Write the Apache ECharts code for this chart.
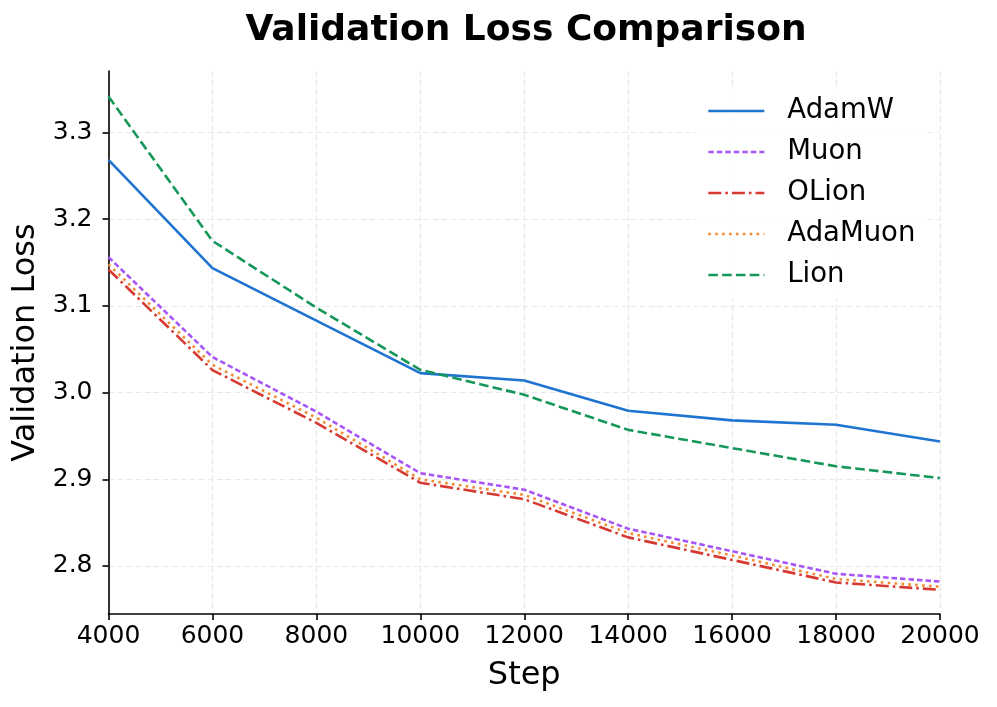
<!DOCTYPE html>
<html>
<head>
<meta charset="utf-8">
<script src="https://cdn.jsdelivr.net/npm/echarts@6/dist/echarts.min.js"></script>
<style>
html,body{margin:0;padding:0;background:#fff;}
#chart{width:997px;height:707px;}
</style>
</head>
<body>
<div id="chart"></div>
<script>
const steps = [4000, 6000, 8000, 10000, 12000, 14000, 16000, 18000, 20000];
const adamw   = [3.2685, 3.1436, 3.083, 3.0225, 3.014, 2.979, 2.968, 2.963, 2.9436];
const muon    = [3.1563, 3.041, 2.978, 2.907, 2.888, 2.843, 2.817, 2.791, 2.782];
const olion   = [3.142, 3.026, 2.965, 2.896, 2.877, 2.833, 2.807, 2.781, 2.7725];
const adamuon = [3.148, 3.032, 2.971, 2.900, 2.882, 2.838, 2.812, 2.785, 2.776];
const lion    = [3.3415, 3.175, 3.098, 3.0263, 2.9975, 2.957, 2.936, 2.915, 2.9014];
const yTicks  = [2.8, 2.9, 3.0, 3.1, 3.2, 3.3];
const xTicks  = [4000, 6000, 8000, 10000, 12000, 14000, 16000, 18000, 20000];

const FONT = 'DejaVu Sans';
const pairs = arr => arr.map((v, i) => [steps[i], v]);

const chart = echarts.init(document.getElementById('chart'), null, {renderer: 'canvas'});

function mkSeries(name, data, color, type, width) {
  return {
    name: name,
    type: 'line',
    data: pairs(data),
    symbol: 'none',
    smooth: false,
    lineStyle: {color: color, width: width || 2.6, type: type, cap: 'butt'},
    itemStyle: {color: color},
    emphasis: {disabled: true},
    animation: false
  };
}

const gridLine = {show: true, lineStyle: {color: '#e8e8e8', width: 1.2, type: [6, 3]}};

chart.setOption({
  backgroundColor: '#ffffff',
  animation: false,
  title: {
    text: 'Validation Loss Comparison',
    left: 521, textAlign: 'center',
    top: 8,
    textStyle: {fontFamily: FONT, fontSize: 36, fontWeight: 'bold', color: '#000'}
  },
  grid: {left: 108.5, right: 57, top: 71, bottom: 93, containLabel: false},
  legend: {
    orient: 'vertical',
    left: 695, top: 87,
    padding: [10, 12, 10, 12],
    backgroundColor: 'rgba(255,255,255,0.8)',
    itemWidth: 56, itemHeight: 22, itemGap: 13,
    itemStyle: {opacity: 0},
    lineStyle: {width: 2.6},
    textStyle: {fontFamily: FONT, fontSize: 27.5, color: '#000', padding: [0, 0, 0, 18]},
    data: ['AdamW', 'Muon', 'OLion', 'AdaMuon', 'Lion']
  },
  xAxis: {
    type: 'value',
    min: 4000, max: 20000, interval: 2000,
    name: 'Step', nameLocation: 'middle', nameGap: 46,
    nameTextStyle: {fontFamily: FONT, fontSize: 32, color: '#000'},
    axisLine: {show: true, onZero: false, lineStyle: {color: '#000', width: 1.6}},
    axisTick: {show: true, inside: false, length: 6, lineStyle: {color: '#000', width: 1.6}, customValues: xTicks},
    axisLabel: {fontFamily: FONT, fontSize: 25, color: '#000', margin: 10, customValues: xTicks, formatter: v => String(v)},
    splitLine: gridLine
  },
  yAxis: {
    type: 'value',
    min: 2.7446, max: 3.371,
    name: 'Validation Loss', nameLocation: 'middle', nameGap: 60,
    nameTextStyle: {fontFamily: FONT, fontSize: 32, color: '#000'},
    axisLine: {show: true, onZero: false, lineStyle: {color: '#000', width: 1.6}},
    axisTick: {show: true, inside: false, length: 6, lineStyle: {color: '#000', width: 1.6}, customValues: yTicks},
    axisLabel: {fontFamily: FONT, fontSize: 25, color: '#000', margin: 16, customValues: yTicks, formatter: v => Number(v).toFixed(1)},
    splitLine: gridLine
  },
  series: [
    mkSeries('AdamW', adamw, '#1f74d2', 'solid', 2.6),
    mkSeries('Muon', muon, '#a855f7', [5.5, 3], 2.6),
    mkSeries('OLion', olion, '#d63a32', [13, 4, 2.6, 4], 2.6),
    mkSeries('AdaMuon', adamuon, '#f28a32', [2.6, 4.3], 2.6),
    mkSeries('Lion', lion, '#16975a', [9.6, 4.2], 2.6)
  ]
});
</script>
</body>
</html>
